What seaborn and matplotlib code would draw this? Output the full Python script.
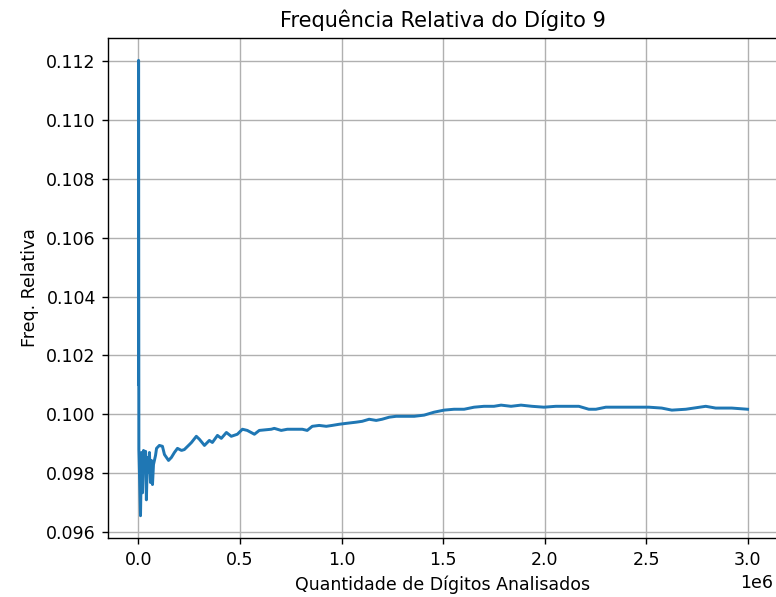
import matplotlib
matplotlib.use("Agg")
import matplotlib.pyplot as plt
import seaborn as sns
import pandas as pd

# Cumulative relative frequency of the digit 9 as more digits are analysed
digits_analysed = [
    0, 500, 2000, 10000, 15000, 20000, 25000, 30000, 35000, 39000, 44000,
    49000, 54000, 59000, 64000, 69000, 74000, 84000, 89000, 103000, 118000,
    128000, 138000, 148000, 162000, 177000, 192000, 212000, 226000, 251000,
    261000, 285000, 300000, 325000, 349000, 364000, 389000, 408000, 433000,
    457000, 487000, 512000, 536000, 571000, 595000, 654000, 669000, 703000,
    733000, 767000, 807000, 831000, 856000, 890000, 925000, 954000, 989000,
    1023000, 1072000, 1102000, 1136000, 1171000, 1200000, 1235000, 1269000,
    1308000, 1358000, 1407000, 1456000, 1505000, 1554000, 1604000, 1653000,
    1702000, 1751000, 1786000, 1835000, 1884000, 1938000, 1997000, 2056000,
    2120000, 2169000, 2218000, 2253000, 2302000, 2366000, 2450000, 2514000,
    2577000, 2627000, 2696000, 2794000, 2843000, 2922000, 3000000,
]
relative_freq = [
    0.10103, 0.11203, 0.09880, 0.09655, 0.09870, 0.09733, 0.09877, 0.09802,
    0.09874, 0.09709, 0.09853, 0.09802, 0.09870, 0.09768, 0.09843, 0.09761,
    0.09829, 0.09860, 0.09884, 0.09894, 0.09891, 0.09863, 0.09853, 0.09843,
    0.09853, 0.09870, 0.09884, 0.09877, 0.09880, 0.09897, 0.09904, 0.09925,
    0.09915, 0.09894, 0.09911, 0.09904, 0.09928, 0.09918, 0.09938, 0.09925,
    0.09932, 0.09949, 0.09945, 0.09932, 0.09945, 0.09949, 0.09952, 0.09945,
    0.09949, 0.09949, 0.09949, 0.09945, 0.09959, 0.09962, 0.09959, 0.09962,
    0.09966, 0.09969, 0.09973, 0.09976, 0.09983, 0.09979, 0.09983, 0.09990,
    0.09993, 0.09993, 0.09993, 0.09997, 0.10007, 0.10014, 0.10017, 0.10017,
    0.10024, 0.10027, 0.10027, 0.10031, 0.10027, 0.10031, 0.10027, 0.10024,
    0.10027, 0.10027, 0.10027, 0.10017, 0.10017, 0.10024, 0.10024, 0.10024,
    0.10024, 0.10021, 0.10014, 0.10017, 0.10027, 0.10021, 0.10021, 0.10017,
]

df = pd.DataFrame({"n": digits_analysed, "freq": relative_freq})

fig = plt.figure(figsize=(776 / 125, 597 / 125), dpi=125)
ax = fig.add_axes([0.1392, 0.098, 0.8634, 0.839])

sns.lineplot(data=df, x="n", y="freq", ax=ax, color="#1f77b4", linewidth=1.7)

ax.grid(True, color="#b0b0b0", linewidth=0.8)
ax.set_title("Frequência Relativa do Dígito 9")
ax.set_xlabel("Quantidade de Dígitos Analisados")
ax.set_ylabel("Freq. Relativa")

# keep the 1e6 multiplier inside the canvas
ax.xaxis.get_offset_text().set_x(0.993)

fig.savefig("out.png", dpi=125)
